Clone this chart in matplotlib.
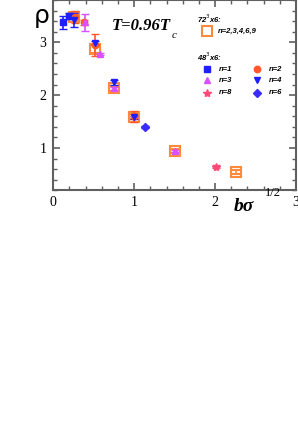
import matplotlib
matplotlib.use("Agg")
import matplotlib.pyplot as plt
from matplotlib.ticker import MultipleLocator

# 72^3 x 6 lattice, n = 2,3,4,6,9 (open orange squares)
x72 = [0.26, 0.51, 0.75, 1.00, 1.51, 2.26]
y72 = [3.47, 2.87, 2.13, 1.59, 0.95, 0.55]
e72 = [0.08, 0.07, 0.05, 0.05, 0.04, 0.04]

# 48^3 x 6 lattice
x_n1 = [0.12, 0.19]
y_n1 = [3.38, 3.50]
e_n1 = [0.12, 0.05]

x_n2 = [0.27, 0.38, 0.51, 1.00]
y_n2 = [3.48, 3.38, 2.95, 1.60]
e_n2 = [0.12, 0.05, 0.20, 0.10]

x_n3 = [0.39, 0.58, 0.75, 1.51]
y_n3 = [3.38, 2.78, 2.13, 0.95]
e_n3 = [0.16, 0.02, 0.03, 0.02]

x_n4 = [0.25, 0.51, 0.75, 1.00]
y_n4 = [3.42, 2.99, 2.24, 1.58]
e_n4 = [0.14, 0.04, 0.05, 0.03]

x_n6 = [1.13]
y_n6 = [1.40]
e_n6 = [0.02]

x_n8 = [2.01]
y_n8 = [0.65]
e_n8 = [0.02]

ORANGE = '#ff8a3c'
RED = '#ff5a28'
BLUE = '#1e1eff'
MAG = '#d850ff'
PINK = '#ff4a78'
BLUE2 = '#3a2cff'

fig = plt.figure(figsize=(2.98, 4.48), dpi=100)
ax = fig.add_axes([53.3/298, 1-190.3/448, (296-53.3)/298, 190.3/448])

MS = 4.6
ax.errorbar(x72, y72, yerr=e72, fmt='s', ms=7, mfc='none', mec=ORANGE, mew=1.5,
            ecolor=ORANGE, elinewidth=1.2, capsize=3, zorder=3)
ax.errorbar(x_n1, y_n1, yerr=e_n1, fmt='s', ms=MS, color=BLUE, elinewidth=1.2, capsize=3, zorder=4)
ax.errorbar(x_n2, y_n2, yerr=e_n2, fmt='o', ms=MS, color=RED, elinewidth=1.2, capsize=3, zorder=4)
ax.errorbar(x_n3, y_n3, yerr=e_n3, fmt='^', ms=MS, color=MAG, elinewidth=1.2, capsize=3, zorder=4)
ax.errorbar(x_n4, y_n4, yerr=e_n4, fmt='v', ms=MS, color=BLUE, elinewidth=1.2, capsize=3, zorder=4)
ax.errorbar(x_n6, y_n6, yerr=e_n6, fmt='D', ms=4.2, color=BLUE2, elinewidth=1.2, capsize=3, zorder=4)
ax.errorbar(x_n8, y_n8, yerr=e_n8, fmt='*', ms=6, color=PINK, elinewidth=1.2, capsize=3, zorder=4)

ax.set_xlim(0, 3)
ax.set_ylim(0.2, 3.8)
ax.xaxis.set_major_locator(MultipleLocator(1))
ax.xaxis.set_minor_locator(MultipleLocator(0.2))
ax.yaxis.set_major_locator(MultipleLocator(1))
ax.yaxis.set_minor_locator(MultipleLocator(0.2))
for s in ax.spines.values():
    s.set_color('#606060')
    s.set_linewidth(1.5)
ax.tick_params(which='both', direction='in', top=True, right=True, color='#606060')
ax.tick_params(which='major', length=5, width=1.2, labelsize=10)
ax.tick_params(axis='x', which='major', pad=4)
ax.tick_params(axis='y', which='major', pad=5)
ax.tick_params(which='minor', length=3, width=1)
for lab in ax.get_xticklabels() + ax.get_yticklabels():
    lab.set_family('Liberation Serif')

# axis labels
fig.text(42/298, 1-16/448, 'ρ', fontsize=18, family='DejaVu Sans', ha='center', va='center')
fig.text(234/298, 1-211/448, 'bσ', fontsize=14, family='Liberation Serif',
         fontweight='bold', style='italic', ha='left', va='baseline')
fig.text(265/298, 1-196/448, '1/2', fontsize=9, family='Liberation Serif', ha='left', va='baseline')

# title text
fig.text(112/298, 1-30/448, 'T=0.96T', fontsize=12, family='Liberation Serif',
         fontweight='bold', style='italic', ha='left', va='baseline')
fig.text(172/298, 1-38/448, 'c', fontsize=8, family='Liberation Serif', style='italic',
         ha='left', va='baseline')

# legend (manual)
lf = dict(fontsize=5.5, family='Liberation Sans', style='italic', fontweight='bold', va='center')
def px(xp, yp):
    return xp/298, 1-yp/448

fig.text(*px(197, 19), '72$^3$x6:', ha='left', **lf)
fig.text(*px(197, 57), '48$^3$x6:', ha='left', **lf)

def legmark(xp, yp, **kw):
    fig.add_artist(plt.Line2D([xp/298], [1-yp/448], transform=fig.transFigure, ls='none', **kw))

legmark(207.3, 31, marker='s', ms=7, mfc='none', mec=ORANGE, mew=1.5)
fig.text(*px(218, 31), 'n=2,3,4,6,9', ha='left', **lf)

rows = [69.3, 80.3, 92.7]
legmark(207.3, rows[0], marker='s', ms=MS, color=BLUE)
fig.text(*px(219, rows[0]), 'n=1', ha='left', **lf)
legmark(257.3, rows[0], marker='o', ms=MS, color=RED)
fig.text(*px(269, rows[0]), 'n=2', ha='left', **lf)
legmark(207.3, rows[1], marker='^', ms=MS, color=MAG)
fig.text(*px(219, rows[1]), 'n=3', ha='left', **lf)
legmark(257.3, rows[1], marker='v', ms=MS, color=BLUE)
fig.text(*px(269, rows[1]), 'n=4', ha='left', **lf)
legmark(207.3, rows[2], marker='*', ms=6, color=PINK)
fig.text(*px(219, rows[2]), 'n=8', ha='left', **lf)
legmark(257.3, rows[2], marker='D', ms=4.2, color=BLUE2)
fig.text(*px(269, rows[2]), 'n=6', ha='left', **lf)

fig.savefig('out.png', dpi=100)
